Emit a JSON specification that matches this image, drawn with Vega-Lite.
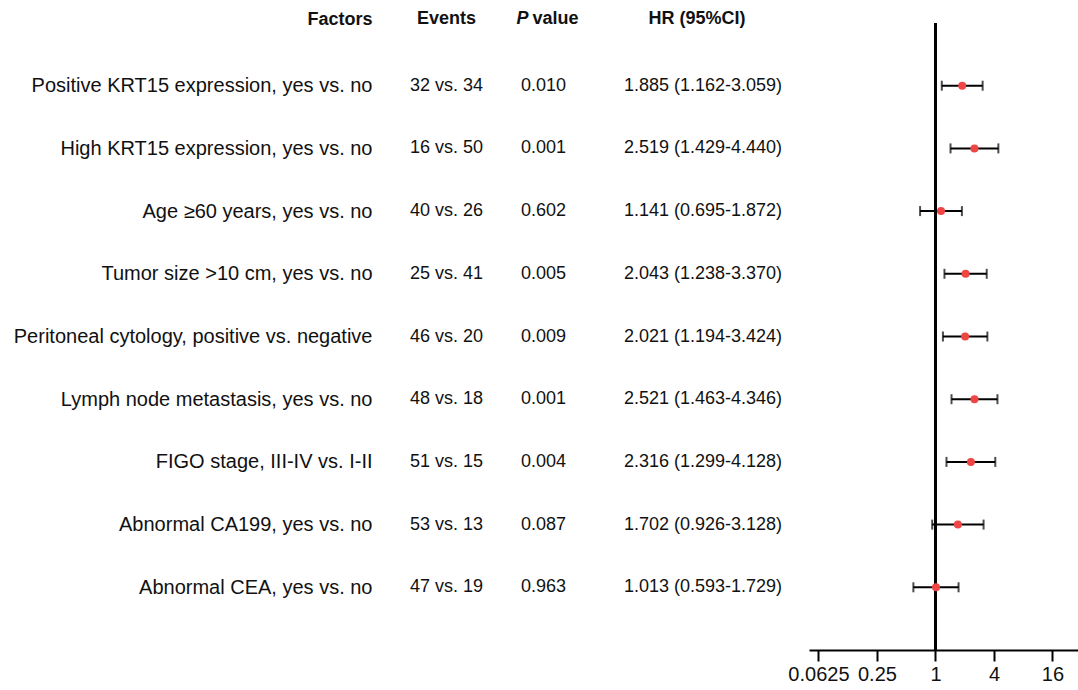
{
  "$schema": "https://vega.github.io/schema/vega-lite/v6.json",
  "padding": {"left": 13, "top": 10, "right": 0, "bottom": 5},
  "bounds": "flush",
  "spacing": 0,
  "config": {
    "view": {"stroke": null},
    "font": "Liberation Sans",
    "concat": {"spacing": 0},
    "text": {"color": "#111111"}
  },
  "datasets": {
    "rows": [
      {"factor": "Positive KRT15 expression, yes vs. no", "events": "32 vs. 34", "p": "0.010", "hrText": "1.885 (1.162-3.059)", "hr": 1.885, "lo": 1.162, "hi": 3.059},
      {"factor": "High KRT15 expression, yes vs. no", "events": "16 vs. 50", "p": "0.001", "hrText": "2.519 (1.429-4.440)", "hr": 2.519, "lo": 1.429, "hi": 4.44},
      {"factor": "Age ≥60 years, yes vs. no", "events": "40 vs. 26", "p": "0.602", "hrText": "1.141 (0.695-1.872)", "hr": 1.141, "lo": 0.695, "hi": 1.872},
      {"factor": "Tumor size >10 cm, yes vs. no", "events": "25 vs. 41", "p": "0.005", "hrText": "2.043 (1.238-3.370)", "hr": 2.043, "lo": 1.238, "hi": 3.37},
      {"factor": "Peritoneal cytology, positive vs. negative", "events": "46 vs. 20", "p": "0.009", "hrText": "2.021 (1.194-3.424)", "hr": 2.021, "lo": 1.194, "hi": 3.424},
      {"factor": "Lymph node metastasis, yes vs. no", "events": "48 vs. 18", "p": "0.001", "hrText": "2.521 (1.463-4.346)", "hr": 2.521, "lo": 1.463, "hi": 4.346},
      {"factor": "FIGO stage, III-IV vs. I-II", "events": "51 vs. 15", "p": "0.004", "hrText": "2.316 (1.299-4.128)", "hr": 2.316, "lo": 1.299, "hi": 4.128},
      {"factor": "Abnormal CA199, yes vs. no", "events": "53 vs. 13", "p": "0.087", "hrText": "1.702 (0.926-3.128)", "hr": 1.702, "lo": 0.926, "hi": 3.128},
      {"factor": "Abnormal CEA, yes vs. no", "events": "47 vs. 19", "p": "0.963", "hrText": "1.013 (0.593-1.729)", "hr": 1.013, "lo": 0.593, "hi": 1.729}
    ]
  },
  "hconcat": [
    {
      "width": 87,
      "height": 627,
      "data": {"name": "rows"},
      "encoding": {
        "y": {
          "field": "factor", "type": "nominal",
          "scale": {"type": "point", "padding": 0, "domain": ["Factors", "Positive KRT15 expression, yes vs. no", "High KRT15 expression, yes vs. no", "Age ≥60 years, yes vs. no", "Tumor size >10 cm, yes vs. no", "Peritoneal cytology, positive vs. negative", "Lymph node metastasis, yes vs. no", "FIGO stage, III-IV vs. I-II", "Abnormal CA199, yes vs. no", "Abnormal CEA, yes vs. no", " "]},
          "axis": {
            "title": null, "domain": false, "ticks": false, "grid": false,
            "labelPadding": 31, "labelLimit": 0, "labelColor": "#111111", "labelFont": "Liberation Sans",
            "labelFontSize": {"expr": "datum.value == 'Factors' ? 18 : 20"},
            "labelFontWeight": {"expr": "datum.value == 'Factors' ? 'bold' : 'normal'"},
            "labelOffset": {"expr": "datum.value == 'Factors' ? -4 : 0"}
          }
        }
      },
      "layer": [
        {
          "mark": {"type": "text", "align": "center", "baseline": "middle", "fontSize": 18},
          "encoding": {"text": {"field": "events"}}
        },
        {
          "data": {"values": [{"label": "Events"}]},
          "mark": {"type": "text", "align": "center", "baseline": "middle", "fontSize": 18, "fontWeight": "bold", "dy": -4},
          "encoding": {"y": {"datum": "Factors", "type": "nominal"}, "text": {"field": "label"}}
        }
      ]
    },
    {
      "width": 107,
      "height": 627,
      "data": {"name": "rows"},
      "encoding": {
        "y": {"field": "factor", "type": "nominal", "scale": {"type": "point", "padding": 0, "domain": ["Factors", "Positive KRT15 expression, yes vs. no", "High KRT15 expression, yes vs. no", "Age ≥60 years, yes vs. no", "Tumor size >10 cm, yes vs. no", "Peritoneal cytology, positive vs. negative", "Lymph node metastasis, yes vs. no", "FIGO stage, III-IV vs. I-II", "Abnormal CA199, yes vs. no", "Abnormal CEA, yes vs. no", " "]}, "axis": null}
      },
      "layer": [
        {
          "mark": {"type": "text", "align": "center", "baseline": "middle", "fontSize": 18},
          "encoding": {"text": {"field": "p"}}
        },
        {
          "data": {"values": [{"label": "P"}]},
          "mark": {"type": "text", "align": "right", "baseline": "middle", "fontSize": 18, "fontWeight": "bold", "fontStyle": "italic", "dy": -4, "dx": -15},
          "encoding": {"y": {"datum": "Factors", "type": "nominal"}, "text": {"field": "label"}}
        },
        {
          "data": {"values": [{"label": "value"}]},
          "mark": {"type": "text", "align": "left", "baseline": "middle", "fontSize": 18, "fontWeight": "bold", "dy": -4, "dx": -11},
          "encoding": {"y": {"datum": "Factors", "type": "nominal"}, "text": {"field": "label"}}
        }
      ]
    },
    {
      "width": 212,
      "height": 627,
      "data": {"name": "rows"},
      "encoding": {
        "y": {"field": "factor", "type": "nominal", "scale": {"type": "point", "padding": 0, "domain": ["Factors", "Positive KRT15 expression, yes vs. no", "High KRT15 expression, yes vs. no", "Age ≥60 years, yes vs. no", "Tumor size >10 cm, yes vs. no", "Peritoneal cytology, positive vs. negative", "Lymph node metastasis, yes vs. no", "FIGO stage, III-IV vs. I-II", "Abnormal CA199, yes vs. no", "Abnormal CEA, yes vs. no", " "]}, "axis": null}
      },
      "layer": [
        {
          "mark": {"type": "text", "align": "center", "baseline": "middle", "fontSize": 18},
          "encoding": {"text": {"field": "hrText"}}
        },
        {
          "data": {"values": [{"label": "HR (95%CI)"}]},
          "mark": {"type": "text", "align": "center", "baseline": "middle", "fontSize": 18, "fontWeight": "bold", "dy": -4, "dx": -6},
          "encoding": {"y": {"datum": "Factors", "type": "nominal"}, "text": {"field": "label"}}
        }
      ]
    },
    {
      "width": 270,
      "height": 627,
      "data": {"name": "rows"},
      "encoding": {
        "y": {"field": "factor", "type": "nominal", "scale": {"type": "point", "padding": 0, "domain": ["Factors", "Positive KRT15 expression, yes vs. no", "High KRT15 expression, yes vs. no", "Age ≥60 years, yes vs. no", "Tumor size >10 cm, yes vs. no", "Peritoneal cytology, positive vs. negative", "Lymph node metastasis, yes vs. no", "FIGO stage, III-IV vs. I-II", "Abnormal CA199, yes vs. no", "Abnormal CEA, yes vs. no", " "]}, "axis": null}
      },
      "layer": [
        {
          "mark": {"type": "rule", "color": "black", "strokeWidth": 2},
          "encoding": {
            "x": {"datum": 1, "type": "quantitative", "scale": {"type": "log", "base": 2, "domain": [0.05, 30], "nice": false, "zero": false},
              "axis": {"values": [0.0625, 0.25, 1, 4, 16], "format": "~g", "title": null, "grid": false, "labelFontSize": 20, "labelColor": "#111111", "labelFont": "Liberation Sans", "domainColor": "black", "domainWidth": 2, "tickColor": "black", "tickWidth": 2, "tickSize": 11, "labelPadding": 3, "labelFlush": false, "labelOverlap": false}},
            "y": null
          }
        },
        {
          "mark": {"type": "rule", "color": "black", "strokeWidth": 2},
          "encoding": {"x": {"field": "lo", "type": "quantitative"}, "x2": {"field": "hi"}}
        },
        {
          "mark": {"type": "tick", "color": "black", "thickness": 2, "size": 10, "orient": "vertical"},
          "encoding": {"x": {"field": "lo", "type": "quantitative"}}
        },
        {
          "mark": {"type": "tick", "color": "black", "thickness": 2, "size": 10, "orient": "vertical"},
          "encoding": {"x": {"field": "hi", "type": "quantitative"}}
        },
        {
          "mark": {"type": "circle", "color": "#f04545", "opacity": 1, "size": 64},
          "encoding": {"x": {"field": "hr", "type": "quantitative"}}
        }
      ]
    }
  ]
}
